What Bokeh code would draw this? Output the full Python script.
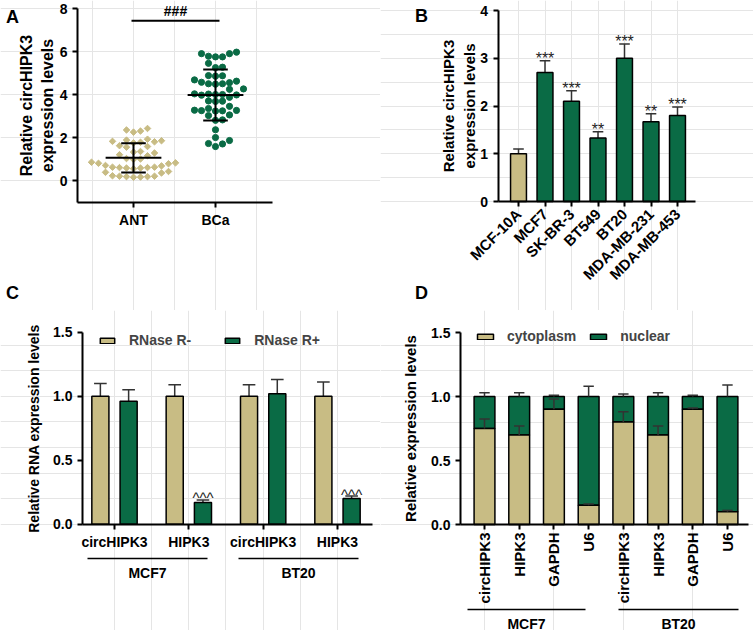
import math
import numpy as np
from bokeh.plotting import figure
from bokeh.models import (Range1d, FixedTicker, ColumnDataSource, Legend, LegendItem,
                          NumeralTickFormatter, LinearAxis)
from bokeh.layouts import row, column
from bokeh.embed import file_html
from bokeh.resources import INLINE
from bokeh.core.properties import value

FONT = "Liberation Sans"
TAN = "#C8BC84"
GREEN = "#0A6B45"
ERR = "#333333"

# ---------------- Panel A data ----------------
a_groups = ["ANT", "BCa"]
ant = [2.42, 2.35, 2.30, 2.25,
       1.92, 1.88, 1.85, 1.82, 1.80, 1.78, 1.75,
       1.62, 1.58, 1.55,
       1.35, 1.32, 1.28,
       1.20, 1.15,
       1.02, 1.00, 0.98,
       0.85, 0.82, 0.80, 0.78,
       0.70, 0.68,
       0.62, 0.60, 0.58, 0.55, 0.60, 0.62, 0.58,
       0.42, 0.38, 0.35,
       0.22, 0.20, 0.18, 0.16, 0.15, 0.20, 0.18]
bca = [5.97,
       5.75, 5.75, 5.78, 5.90, 5.90,
       5.45,
       5.25, 5.27,
       4.88, 4.87, 4.85,
       4.68, 4.62,
       4.57, 4.55, 4.50, 4.50, 4.48,
       4.26, 4.24,
       4.03, 4.02, 4.00, 4.00, 3.98, 3.97,
       3.87,
       3.69, 3.68, 3.70,
       3.45, 3.35,
       3.26, 3.24, 3.25, 3.23, 3.27,
       3.02, 3.05,
       2.82, 2.80,
       2.36,
       2.00, 1.86, 1.72, 1.70, 1.58]
a_sig_text = "###"
a_sig_level = 7.43

# ---------------- Panel B data ----------------
b_lines = ["MCF-10A", "MCF7", "SK-BR-3", "BT549", "BT20", "MDA-MB-231", "MDA-MB-453"]
b_vals = [1.00, 2.70, 2.10, 1.33, 3.00, 1.67, 1.80]
b_err = [0.10, 0.25, 0.22, 0.13, 0.30, 0.17, 0.18]
b_stars = ["", "***", "***", "**", "***", "**", "***"]

# ---------------- Panel C data ----------------
c_genes = ["circHIPK3", "HIPK3", "circHIPK3", "HIPK3"]
c_cells = ["MCF7", "BT20"]
c_minus = [1.00, 1.00, 1.00, 1.00]
c_minus_err = [0.10, 0.09, 0.09, 0.11]
c_plus = [0.96, 0.17, 1.02, 0.20]
c_plus_err = [0.09, 0.02, 0.11, 0.02]
c_marks = ["", "^^^", "", "^^^"]
c_series = ["RNase R-", "RNase R+"]

# ---------------- Panel D data ----------------
d_genes = ["circHIPK3", "HIPK3", "GAPDH", "U6", "circHIPK3", "HIPK3", "GAPDH", "U6"]
d_cells = ["MCF7", "BT20"]
d_cyto = [0.75, 0.70, 0.90, 0.15, 0.80, 0.70, 0.90, 0.10]
d_cyto_err = [0.075, 0.07, 0.08, 0.01, 0.08, 0.07, 0.01, 0.01]
d_nuc_err = [0.03, 0.03, 0.01, 0.08, 0.02, 0.03, 0.01, 0.09]
d_series = ["cytoplasm", "nuclear"]


def mapper(px0, v0, ppu):
    return lambda px: v0 + (px - px0) / ppu


def ymapper(py0, v0, ppu):
    return lambda py: v0 - (py - py0) / ppu


def make_fig(W, H, X, Y):
    p = figure(width=W, height=H, x_range=Range1d(X(0), X(W)), y_range=Range1d(Y(H), Y(0)),
               output_backend="svg", toolbar_location=None, min_border=0,
               x_axis_location=None, y_axis_location=None)
    p.outline_line_color = None
    p.background_fill_color = "white"
    p.border_fill_color = "white"
    return p


def add_axes(p, xloc, xbounds, yloc, ybounds, xsize, ysize, label_size):
    xa = LinearAxis(fixed_location=xloc, bounds=xbounds)
    ya = LinearAxis(fixed_location=yloc, bounds=ybounds)
    p.add_layout(xa, "below")
    p.add_layout(ya, "left")
    for ax in (xa, ya):
        ax.axis_line_width = 2
        ax.axis_line_color = "black"
        ax.major_tick_line_width = 2
        ax.major_tick_line_color = "black"
        ax.major_tick_out = 5
        ax.major_tick_in = 0
        ax.minor_tick_line_color = None
        ax.major_label_text_font = FONT
        ax.major_label_text_font_style = "bold"
        ax.major_label_text_color = "black"
        ax.axis_label_text_font = FONT
        ax.axis_label_text_font_style = "bold"
        ax.axis_label_text_color = "black"
        ax.axis_label_text_font_size = label_size
    xa.major_label_text_font_size = xsize
    ya.major_label_text_font_size = ysize
    return xa, ya


def put_text(p, x, y, txt, size="18px", style="bold", align="center", baseline="middle", yoff=0):
    p.text(x=x, y=y, text=txt, text_font=value(FONT), text_font_style=style,
           text_font_size=size, text_align=align, text_baseline=baseline,
           text_color="black", y_offset=yoff)


def swarm(vals, xpx, ypx, step, diam):
    vals = np.asarray(vals, dtype=float)
    order = np.argsort(vals)
    placed = []
    offs = np.zeros(len(vals))
    cands = [0] + [s * j for j in range(1, 30) for s in (1, -1)]
    for i in order:
        y = vals[i] * ypx
        for c in cands:
            x = c * step
            if all((x - px) ** 2 + (y - py) ** 2 >= diam ** 2 for px, py in placed):
                break
        placed.append((x, y))
        offs[i] = x / xpx
    return offs


# ================= Panel A =================
XA, YA = mapper(133, 1, 82.0), ymapper(180, 0, 21.5)
pA = make_fig(380, 310, XA, YA)
ant_x = 1 + swarm(ant, 82.0, 21.5, 7.0, 6.6)
bca_x = 2 + swarm(bca, 82.0, 21.5, 7.0, 6.6)
pA.scatter(ant_x, ant, marker="square", size=4.6, angle=math.pi / 4,
           fill_color=TAN, line_color=TAN)
pA.scatter(bca_x, bca, marker="circle", size=6.2, fill_color=GREEN, line_color=GREEN)
for gx, vals in ((1, ant), (2, bca)):
    m = float(np.mean(vals))
    sd = float(np.std(vals, ddof=1))
    pA.segment(x0=[gx - 0.34, gx - 0.15, gx - 0.15, gx], y0=[m, m + sd, m - sd, m - sd],
               x1=[gx + 0.34, gx + 0.15, gx + 0.15, gx], y1=[m, m + sd, m - sd, m + sd],
               line_color="black", line_width=2)
pA.segment(x0=[XA(131)], y0=[a_sig_level], x1=[XA(219)], y1=[a_sig_level],
           line_color="black", line_width=2)
put_text(pA, [XA(175)], [YA(10)], [a_sig_text], size="14px")
xa, ya = add_axes(pA, -1, (XA(77), XA(272)), XA(77), (-1, 8), "14px", "14px", "16px")
xa.ticker = FixedTicker(ticks=[1, 2])
xa.major_label_overrides = {1: a_groups[0], 2: a_groups[1]}
ya.ticker = FixedTicker(ticks=[0, 2, 4, 6, 8])
ya.axis_label = "Relative circHIPK3\nexpression levels"
ya.axis_label_standoff = 1
put_text(pA, [XA(12), XA(12)], [YA(16), YA(292)], ["A", "C"])

# ================= Panel B =================
XB, YB = mapper(138, 0, 26.5), ymapper(201, 0, 47.75)
pB = make_fig(373, 310, XB, YB)
bx = list(range(len(b_lines)))
btop = [v + e for v, e in zip(b_vals, b_err)]
bsrc = ColumnDataSource(dict(x=bx, top=b_vals, etop=btop,
                             c0=[x - 0.2 for x in bx], c1=[x + 0.2 for x in bx],
                             color=[TAN] + [GREEN] * (len(bx) - 1), stars=b_stars))
pB.segment(x0="x", y0="top", x1="x", y1="etop", source=bsrc, line_color=ERR, line_width=1.5)
pB.segment(x0="c0", y0="etop", x1="c1", y1="etop", source=bsrc, line_color=ERR, line_width=1.5)
pB.vbar(x="x", top="top", width=0.6, source=bsrc, fill_color="color", line_color="black", line_width=1.5)
pB.text(x="x", y="etop", text="stars", source=bsrc, text_font=value(FONT), text_font_size="16px",
        text_align="center", text_baseline="alphabetic", y_offset=-2, text_color="#222222")
xb, yb = add_axes(pB, 0, (XB(117.6), XB(315)), XB(117.6), (0, 4), "15px", "14px", "15px")
xb.ticker = FixedTicker(ticks=bx)
xb.major_label_overrides = {i: n for i, n in enumerate(b_lines)}
xb.major_label_orientation = math.pi / 4
yb.ticker = FixedTicker(ticks=[0, 1, 2, 3, 4])
yb.axis_label = "Relative circHIPK3\nexpression levels"
yb.axis_label_standoff = 0
put_text(pB, [XB(41), XB(41)], [YB(15), YB(292)], ["B", "D"])

# ================= Panel C =================
XC, YC = mapper(114, 0, 74.33), ymapper(213.7, 0, 128.0)
pC = make_fig(380, 320, XC, YC)
cx = list(range(len(c_genes)))
renders = []
for vals, errs, off, col in ((c_minus, c_minus_err, -0.19, TAN), (c_plus, c_plus_err, 0.19, GREEN)):
    xs = [x + off for x in cx]
    et = [v + e for v, e in zip(vals, errs)]
    src = ColumnDataSource(dict(x=xs, top=vals, etop=et, c0=[x - 0.085 for x in xs],
                                c1=[x + 0.085 for x in xs]))
    pC.segment(x0="x", y0="top", x1="x", y1="etop", source=src, line_color=ERR, line_width=1.5)
    pC.segment(x0="c0", y0="etop", x1="c1", y1="etop", source=src, line_color=ERR, line_width=1.5)
    r = pC.vbar(x="x", top="top", width=0.23, source=src, fill_color=col, line_color="black", line_width=1.5)
    renders.append(r)
csrc = ColumnDataSource(dict(x=[x + 0.19 for x in cx], y=[v + e for v, e in zip(c_plus, c_plus_err)],
                             t=c_marks))
pC.text(x="x", y="y", text="t", source=csrc, text_font=value(FONT), text_font_size="15px",
        text_align="center", text_baseline="alphabetic", y_offset=-2, text_color="#222222")
legC = Legend(items=[LegendItem(label=c_series[0], renderers=[renders[0]]),
                     LegendItem(label=c_series[1], renderers=[renders[1]])],
              orientation="horizontal", location=(98, 282), glyph_width=18, glyph_height=7,
              label_height=7, label_width=20, label_standoff=13, spacing=32, padding=0, margin=0,
              border_line_color=None, background_fill_alpha=0,
              label_text_font=FONT, label_text_font_style="bold", label_text_font_size="14px")
pC.add_layout(legC)
xc, yc = add_axes(pC, 0, (XC(82), XC(372)), XC(82), (0, 1.5), "14px", "14px", "14px")
xc.ticker = FixedTicker(ticks=cx)
xc.major_label_overrides = {i: n for i, n in enumerate(c_genes)}
yc.ticker = FixedTicker(ticks=[0, 0.5, 1.0, 1.5])
yc.formatter = NumeralTickFormatter(format="0.0")
yc.axis_label = "Relative RNA expression levels"
yc.axis_label_standoff = 8
c_spans = [(XC(87), XC(207)), (XC(238), XC(358))]
for (s0, s1), name in zip(c_spans, c_cells):
    pC.segment(x0=[s0], y0=[YC(248)], x1=[s1], y1=[YC(248)], line_color="black", line_width=1.5)
    put_text(pC, [(s0 + s1) / 2], [YC(262)], [name], size="14px")

# ================= Panel D =================
XD, YD = mapper(104, 0, 34.71), ymapper(214, 0, 128.0)
pD = make_fig(373, 320, XD, YD)
dx = list(range(len(d_genes)))
ones = [1.0] * len(dx)
dsrc = ColumnDataSource(dict(x=dx, cyto=d_cyto, one=ones,
                             cyto_e=[v + e for v, e in zip(d_cyto, d_cyto_err)],
                             nuc_e=[1.0 + e for e in d_nuc_err],
                             c0=[x - 0.15 for x in dx], c1=[x + 0.15 for x in dx]))
rn = pD.vbar(x="x", bottom="cyto", top="one", width=0.6, source=dsrc, fill_color=GREEN,
             line_color="black", line_width=1.5)
rc = pD.vbar(x="x", bottom=0, top="cyto", width=0.6, source=dsrc, fill_color=TAN,
             line_color="black", line_width=1.5)
for lo, hi in (("cyto", "cyto_e"), ("one", "nuc_e")):
    pD.segment(x0="x", y0=lo, x1="x", y1=hi, source=dsrc, line_color=ERR, line_width=1.5)
    pD.segment(x0="c0", y0=hi, x1="c1", y1=hi, source=dsrc, line_color=ERR, line_width=1.5)
legD = Legend(items=[LegendItem(label=d_series[0], renderers=[rc]),
                     LegendItem(label=d_series[1], renderers=[rn])],
              orientation="horizontal", location=(95, 286), glyph_width=20, glyph_height=7,
              label_height=7, label_width=20, label_standoff=12, spacing=12, padding=0, margin=0,
              border_line_color=None, background_fill_alpha=0,
              label_text_font=FONT, label_text_font_style="bold", label_text_font_size="14px")
pD.add_layout(legD)
xd, yd = add_axes(pD, 0, (XD(80), XD(368)), XD(80), (0, 1.5), "15px", "14px", "15px")
xd.ticker = FixedTicker(ticks=dx)
xd.major_label_overrides = {i: n for i, n in enumerate(d_genes)}
xd.major_label_orientation = math.pi / 2
xd.major_label_standoff = 3
yd.ticker = FixedTicker(ticks=[0, 0.5, 1.0, 1.5])
yd.formatter = NumeralTickFormatter(format="0.0")
yd.axis_label = "Relative expression levels"
yd.axis_label_standoff = 9
d_spans = [(XD(87), XD(205)), (XD(238), XD(358))]
for (s0, s1), name in zip(d_spans, d_cells):
    pD.segment(x0=[s0], y0=[YD(299)], x1=[s1], y1=[YD(299)], line_color="black", line_width=1.5)
    put_text(pD, [(s0 + s1) / 2], [YD(313)], [name], size="14px")

layout = column(row(pA, pB), row(pC, pD))
open("out.html", "w").write(file_html(layout, INLINE))
